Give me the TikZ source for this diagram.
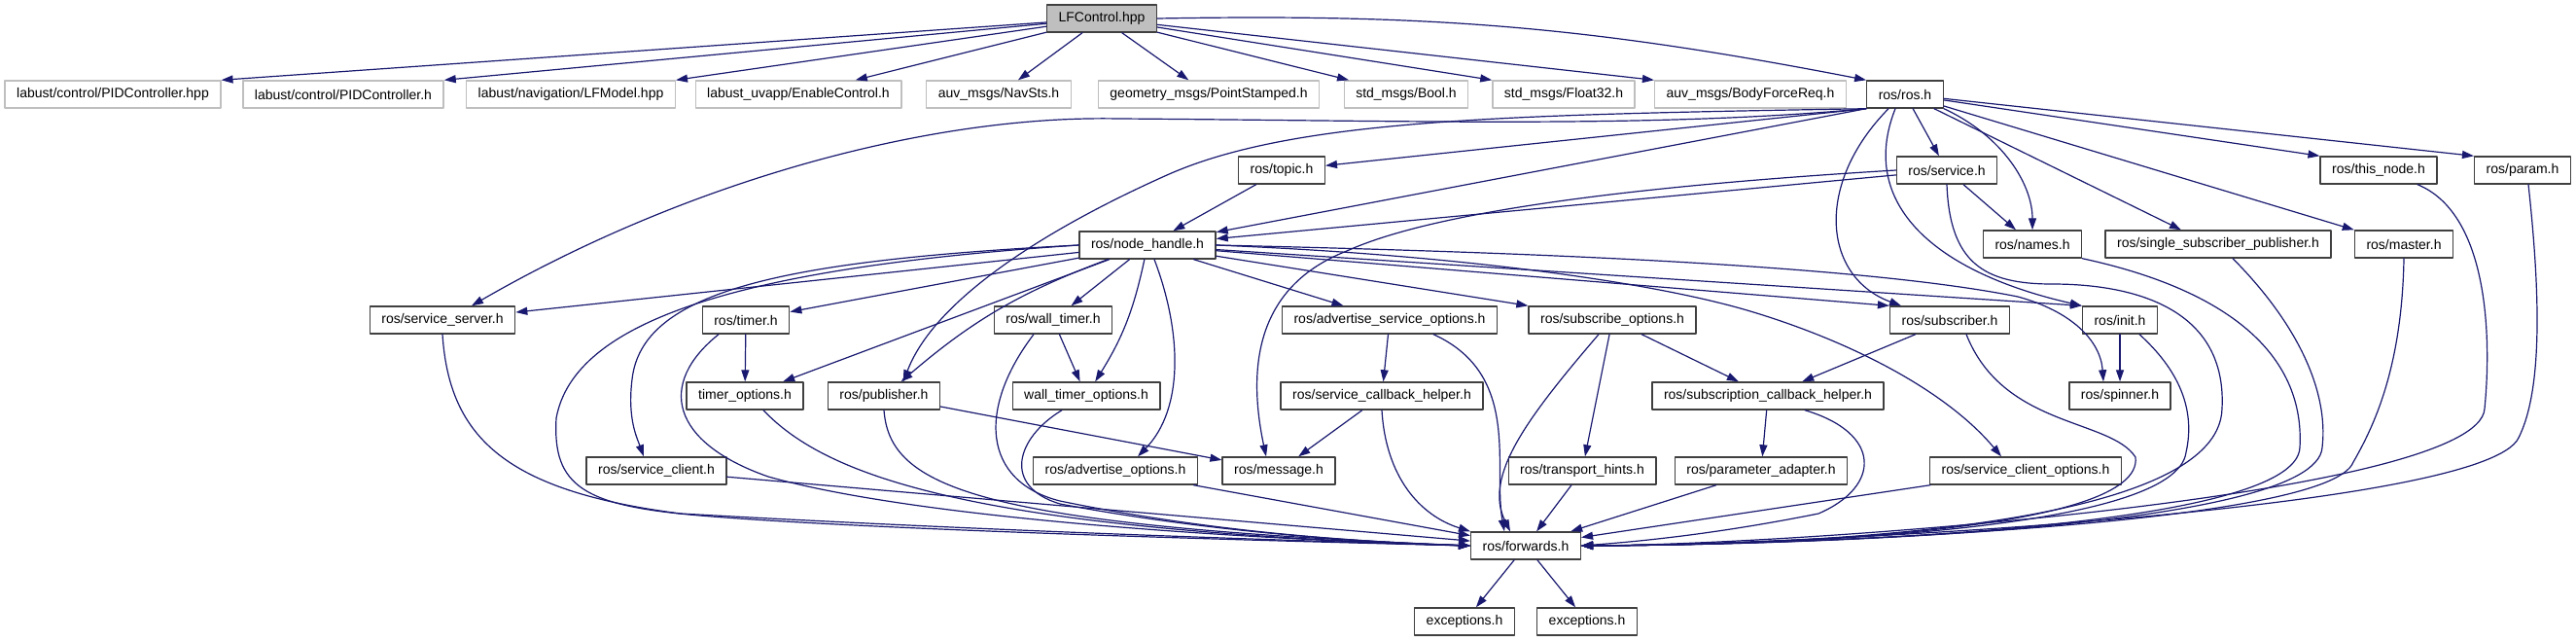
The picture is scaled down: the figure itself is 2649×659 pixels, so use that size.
\documentclass[tikz,border=0pt]{standalone}
\usepackage{fontspec}
\setmainfont{Liberation Sans}
\usetikzlibrary{arrows.meta}
\definecolor{midnight}{RGB}{25,25,112}

\begin{document}
\begin{tikzpicture}[line cap=round,line join=round,>={Triangle[length=12pt,width=8pt]},x=1pt,y=-1pt,
  hdr/.style={draw=black!75,line width=1.4pt,minimum height=28pt,inner xsep=12pt,inner ysep=0pt,
    font=\fontsize{14}{16}\selectfont},
  exthdr/.style={hdr,draw=black!25},
  mainhdr/.style={hdr,fill=black!25},
  inc/.style={->,draw=midnight,line width=1.2pt}]
\useasboundingbox (0,0) rectangle (2649,659);
\fill[white] (0,0) rectangle (2649,659);

\node[mainhdr] (LF) at (1133,19) {LFControl.hpp};

\node[exthdr] (PIDA) at (116,97) {labust/control/PIDController.hpp};
\node[exthdr] (PIDB) at (353,97) {labust/control/PIDController.h};
\node[exthdr] (LFM) at (587,97) {labust/navigation/LFModel.hpp};
\node[exthdr] (EC) at (821,97) {labust\_uvapp/EnableControl.h};
\node[exthdr] (NAV) at (1027,97) {auv\_msgs/NavSts.h};
\node[exthdr] (PS) at (1243,97) {geometry\_msgs/PointStamped.h};
\node[exthdr] (BOOL) at (1446,97) {std\_msgs/Bool.h};
\node[exthdr] (F32) at (1608,97) {std\_msgs/Float32.h};
\node[exthdr] (BFR) at (1800,97) {auv\_msgs/BodyForceReq.h};
\node[hdr] (ROS) at (1959,97) {ros/ros.h};

\node[hdr] (TOPIC) at (1318,175) {ros/topic.h};
\node[hdr] (SRV) at (2002,175) {ros/service.h};
\node[hdr] (TN) at (2446,175) {ros/this\_node.h};
\node[hdr] (PARAM) at (2594,175) {ros/param.h};

\node[hdr] (NH) at (1180,252) {ros/node\_handle.h};
\node[hdr] (NAMES) at (2090,251) {ros/names.h};
\node[hdr] (SSP) at (2281,251) {ros/single\_subscriber\_publisher.h};
\node[hdr] (MASTER) at (2472,251) {ros/master.h};

\node[hdr] (SS) at (455,329) {ros/service\_server.h};
\node[hdr] (TIMER) at (767,329) {ros/timer.h};
\node[hdr] (WT) at (1083,329) {ros/wall\_timer.h};
\node[hdr] (ASO) at (1429,329) {ros/advertise\_service\_options.h};
\node[hdr] (SO) at (1658,329) {ros/subscribe\_options.h};
\node[hdr] (SUB) at (2005,329) {ros/subscriber.h};
\node[hdr] (INIT) at (2180,329) {ros/init.h};

\node[hdr] (TOPT) at (766,407) {timer\_options.h};
\node[hdr] (PUB) at (909,407) {ros/publisher.h};
\node[hdr] (WTO) at (1117,407) {wall\_timer\_options.h};
\node[hdr] (SCB) at (1421,407) {ros/service\_callback\_helper.h};
\node[hdr] (SCH) at (1818,407) {ros/subscription\_callback\_helper.h};
\node[hdr] (SP) at (2180,407) {ros/spinner.h};

\node[hdr] (SC) at (675,484) {ros/service\_client.h};
\node[hdr] (AO) at (1147,484) {ros/advertise\_options.h};
\node[hdr] (MSG) at (1315,484) {ros/message.h};
\node[hdr] (TH) at (1627,484) {ros/transport\_hints.h};
\node[hdr] (PA) at (1811,484) {ros/parameter\_adapter.h};
\node[hdr] (SCO) at (2083,484) {ros/service\_client\_options.h};

\node[hdr] (FWD) at (1569,561) {ros/forwards.h};
\node[hdr] (EXA) at (1506,639) {exceptions.h};
\node[hdr] (EXB) at (1632,639) {exceptions.h};

\draw[inc] (LF) -- (PIDA.north east);
\draw[inc] (LF) -- (PIDB.north east);
\draw[inc] (LF) -- (LFM.north east);
\draw[inc] (LF) -- (EC);
\draw[inc] (LF) -- (NAV);
\draw[inc] (LF) -- (PS);
\draw[inc] (LF) -- (BOOL);
\draw[inc] (LF) -- (F32.north west);
\draw[inc] (LF) -- (BFR.north west);
\draw[inc] (LF.east) to[bend left=6] (ROS.north west);

\draw[inc] (ROS.south west) .. controls (1700,132) and (1450,124) .. (1150,122) .. controls (950,118) and (700,190) .. ([xshift=30pt]SS.north);
\draw[inc] (ROS.south west) .. controls (1550,118) and (1330,122) .. (1200,180) .. controls (1070,238) and (960,310) .. ([xshift=20pt]PUB.north);
\draw[inc] (ROS.south west) -- (TOPIC);
\draw[inc] (ROS.south west) -- (NH);
\draw[inc] (ROS) -- (SRV);
\draw[inc] (ROS.south east) .. controls (2060,140) and (2090,190) .. (NAMES.north);
\draw[inc] (ROS) -- ([xshift=-38pt]SSP.north);
\draw[inc] (ROS) -- (MASTER.north west);
\draw[inc] (ROS) -- (TN.north west);
\draw[inc] (ROS) -- (PARAM.north west);
\draw[inc] ([xshift=-17pt]ROS.south) .. controls (1865,190) and (1875,285) .. ([xshift=-50pt]SUB.north);
\draw[inc] ([xshift=-10pt]ROS.south) .. controls (1910,210) and (1990,280) .. (INIT.north west);

\draw[inc] (SRV) -- (NH);
\draw[inc] (SRV) -- (NAMES);
\draw[inc] (SRV.west) .. controls (1700,190) and (1480,215) .. (1385,258) .. controls (1290,295) and (1283,380) .. ([xshift=-13pt]MSG.north);
\draw[inc] (SRV.south) .. controls (2005,270) and (2040,292) .. (2110,292) .. controls (2200,292) and (2290,320) .. (2285,420) .. controls (2282,545) and (1850,560) .. (FWD.east);

\draw[inc] (TOPIC) -- (NH);

\draw[inc] (NH) -- (SS);
\draw[inc] (NH) -- (TIMER);
\draw[inc] (NH) -- (TOPT);
\draw[inc] (NH) to[bend right=10] (PUB);
\draw[inc] (NH) -- (WT);
\draw[inc] (NH) to[bend left=10] (WTO);
\draw[inc] (NH.west) .. controls (800,268) and (660,300) .. (650,390) .. controls (645,430) and (655,450) .. ([xshift=-13pt]SC.north);
\draw[inc] (NH.west) .. controls (760,275) and (590,330) .. (572,430) .. controls (568,500) and (600,520) .. (720,530) .. controls (900,545) and (1300,556) .. (FWD.west);
\draw[inc] ([xshift=7pt]NH.south) .. controls (1215,340) and (1218,420) .. ([xshift=23pt]AO.north);
\draw[inc] (NH) -- (ASO);
\draw[inc] (NH) -- (SO.north west);
\draw[inc] (NH) -- (SUB.north west);
\draw[inc] (NH) -- (INIT.north west);
\draw[inc] (NH.east) .. controls (1700,262) and (1950,280) .. (2075,305) .. controls (2130,320) and (2160,350) .. ([xshift=-17pt]SP.north);
\draw[inc] (NH.east) .. controls (1500,262) and (1700,290) .. (1800,320) .. controls (1900,350) and (2000,400) .. ([xshift=-25pt]SCO.north);

\draw[inc] (SS.south) .. controls (462,450) and (520,505) .. (700,528) .. controls (1000,545) and (1300,555) .. (FWD.west);
\draw[inc] (TIMER) -- (TOPT);
\draw[inc] ([xshift=-28pt]TIMER.south) .. controls (675,395) and (690,455) .. (790,490) .. controls (950,535) and (1300,555) .. (FWD.west);
\draw[inc] (WT) -- (WTO);
\draw[inc] ([xshift=-20pt]WT.south) .. controls (1005,420) and (1010,495) .. (1090,515) .. controls (1250,548) and (1400,557) .. (FWD.west);
\draw[inc] (ASO) -- (SCB);
\draw[inc] ([xshift=45pt]ASO.south) .. controls (1565,385) and (1535,480) .. ([xshift=-22pt]FWD.north);
\draw[inc] (SO) -- (SCH);
\draw[inc] (SO) -- (TH);
\draw[inc] ([xshift=-14pt]SO.south) .. controls (1570,430) and (1525,490) .. ([xshift=-16pt]FWD.north);
\draw[inc] (SUB) -- (SCH);
\draw[inc] ([xshift=17pt]SUB.south) .. controls (2060,440) and (2170,430) .. (2196,470) .. controls (2205,545) and (1850,560) .. (FWD.east);
\draw[inc] (INIT) -- (SP);
\draw[inc] ([xshift=20pt]INIT.south) .. controls (2240,380) and (2258,420) .. (2248,465) .. controls (2238,545) and (1850,560) .. (FWD.east);

\draw[inc] ([xshift=19pt]TOPT.south) .. controls (850,490) and (1000,545) .. (FWD.west);
\draw[inc] (PUB) -- (MSG);
\draw[inc] (PUB.south) .. controls (915,500) and (1000,540) .. (FWD.west);
\draw[inc] ([xshift=-25pt]WTO.south) .. controls (1045,450) and (1030,500) .. (1090,518) .. controls (1250,548) and (1400,557) .. (FWD.west);
\draw[inc] (SCB) -- (MSG);
\draw[inc] (SCB.south) .. controls (1425,490) and (1460,530) .. (FWD.north west);
\draw[inc] (SCH) -- (PA);
\draw[inc] ([xshift=38pt]SCH.south) .. controls (1935,445) and (1935,500) .. (1870,528) .. controls (1760,550) and (1680,557) .. (FWD.east);

\draw[inc] (SC) -- (FWD);
\draw[inc] (AO) -- (FWD);
\draw[inc] (TH) -- (FWD);
\draw[inc] (PA) -- (FWD);
\draw[inc] (SCO) -- (FWD);

\draw[inc] (NAMES.south east) .. controls (2300,300) and (2370,370) .. (2365,460) .. controls (2362,545) and (1850,560) .. (FWD.east);
\draw[inc] ([xshift=15pt]SSP.south) .. controls (2360,330) and (2395,400) .. (2388,460) .. controls (2382,545) and (1850,560) .. (FWD.east);
\draw[inc] (MASTER.south) .. controls (2470,380) and (2440,440) .. (2420,475) .. controls (2395,540) and (1850,560) .. (FWD.east);
\draw[inc] ([xshift=40pt]TN.south) .. controls (2560,220) and (2562,350) .. (2555,420) .. controls (2550,510) and (1850,560) .. (FWD.east);
\draw[inc] ([xshift=6pt]PARAM.south) .. controls (2612,300) and (2615,400) .. (2590,450) .. controls (2555,525) and (1850,560) .. (FWD.east);

\draw[inc] (FWD) -- (EXA);
\draw[inc] (FWD) -- (EXB);

\end{tikzpicture}
\end{document}
